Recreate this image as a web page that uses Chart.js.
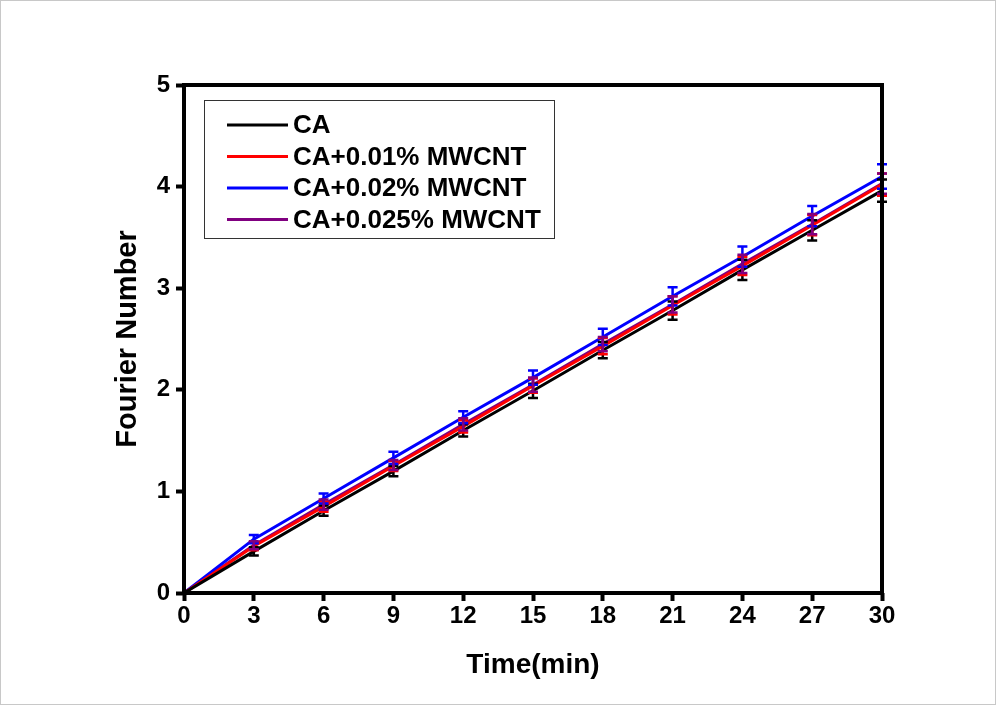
<!DOCTYPE html>
<html>
<head>
<meta charset="utf-8">
<script src="https://cdn.jsdelivr.net/npm/chart.js@4.4.1/dist/chart.umd.min.js"></script>
<style>
  html, body { margin: 0; padding: 0; background: #fff; }
  #wrap { width: 994px; height: 703px; border: 1px solid #c8c8c8; }
</style>
</head>
<body>
<div id="wrap"><canvas id="fo" width="994" height="703"></canvas></div>
<script>
let times = [0, 3, 6, 9, 12, 15, 18, 21, 24, 27, 30];
let seriesNames = ["CA", "CA+0.01% MWCNT", "CA+0.02% MWCNT", "CA+0.025% MWCNT"];
let seriesColors = ["#000000", "#ff0000", "#0000ff", "#800080"];

let foCA     = [0, 0.41, 0.81, 1.20, 1.60, 1.99, 2.39, 2.78, 3.18, 3.57, 3.96];
let foCA001  = [0, 0.46, 0.85, 1.25, 1.64, 2.04, 2.43, 2.83, 3.22, 3.62, 4.02];
let foCA002  = [0, 0.53, 0.93, 1.33, 1.73, 2.12, 2.52, 2.92, 3.31, 3.71, 4.10];
let foCA0025 = [0, 0.47, 0.87, 1.26, 1.66, 2.05, 2.45, 2.84, 3.24, 3.63, 4.03];

// standard deviation at each time
let errCA     = [0, 0.04, 0.05, 0.05, 0.06, 0.07, 0.08, 0.09, 0.10, 0.10, 0.11];
let errCA001  = [0, 0.04, 0.05, 0.05, 0.06, 0.07, 0.08, 0.09, 0.09, 0.10, 0.11];
let errCA002  = [0, 0.04, 0.05, 0.06, 0.06, 0.07, 0.08, 0.09, 0.10, 0.10, 0.12];
let errCA0025 = [0, 0.04, 0.05, 0.05, 0.06, 0.07, 0.07, 0.08, 0.09, 0.10, 0.10];

let yTicks = [0, 1, 2, 3, 4, 5];

let values = [foCA, foCA001, foCA002, foCA0025];
let errors = [errCA, errCA001, errCA002, errCA0025];

const FONT = "'Liberation Sans', Arial, sans-serif";

// error bars with caps, drawn with each line's colour
const errorBars = {
    id: "errorBars",
    afterDatasetsDraw(chart) {
        const { ctx, scales: { x, y } } = chart;
        ctx.save();
        chart.data.datasets.forEach((ds, i) => {
            ctx.strokeStyle = ds.borderColor;
            ctx.lineWidth = 2.5;
            ds.data.forEach((p, j) => {
                const e = errors[i][j];
                if (!e) return;
                const px = x.getPixelForValue(p.x);
                const top = y.getPixelForValue(p.y + e);
                const bot = y.getPixelForValue(p.y - e);
                ctx.beginPath();
                ctx.moveTo(px, top); ctx.lineTo(px, bot);
                ctx.moveTo(px - 5, top); ctx.lineTo(px + 5, top);
                ctx.moveTo(px - 5, bot); ctx.lineTo(px + 5, bot);
                ctx.stroke();
            });
        });
        ctx.restore();
    }
};

// heavy frame round the plot and boxed legend in the upper left
const frameAndLegend = {
    id: "frameAndLegend",
    afterDraw(chart) {
        const { ctx, chartArea: a } = chart;
        ctx.save();
        ctx.strokeStyle = "#000";
        ctx.lineWidth = 4;
        ctx.strokeRect(a.left, a.top, a.right - a.left, a.bottom - a.top);

        const bx = a.left + 20, by = a.top + 15, bw = 350, bh = 138;
        ctx.lineWidth = 1;
        ctx.strokeStyle = "#333";
        ctx.fillStyle = "#fff";
        ctx.fillRect(bx, by, bw, bh);
        ctx.strokeRect(bx + 0.5, by + 0.5, bw, bh);

        ctx.font = "bold 26px " + FONT;
        ctx.textBaseline = "middle";
        chart.data.datasets.forEach((ds, i) => {
            const ly = by + 25 + i * 31.5;
            ctx.strokeStyle = ds.borderColor;
            ctx.lineWidth = 3;
            ctx.beginPath();
            ctx.moveTo(bx + 23, ly); ctx.lineTo(bx + 84, ly);
            ctx.stroke();
            ctx.fillStyle = "#000";
            ctx.fillText(ds.label, bx + 89, ly + 1);
        });
        ctx.restore();
    }
};

new Chart("fo", {
    type: "line",
    data: {
        datasets: seriesNames.map((name, i) => ({
            label: name,
            data: times.map((t, j) => ({ x: t, y: values[i][j] })),
            borderColor: seriesColors[i],
            backgroundColor: seriesColors[i],
            borderWidth: 3,
            pointRadius: 0,
            tension: 0,
        })),
    },
    options: {
        responsive: false,
        animation: false,
        layout: { padding: { left: 0, top: 84, right: 113, bottom: 0 } },
        plugins: {
            legend: { display: false },
            tooltip: { enabled: false },
        },
        scales: {
            x: {
                type: "linear",
                min: 0,
                max: 30,
                afterBuildTicks: (s) => { s.ticks = times.map((v) => ({ value: v })); },
                afterFit: (s) => { s.height = 111; },
                border: { display: false },
                grid: {
                    drawOnChartArea: false,
                    color: "#000",
                    tickLength: 8,
                    tickWidth: 4,
                },
                ticks: {
                    color: "#000",
                    padding: 1,
                    maxRotation: 0,
                    font: { family: FONT, size: 24, weight: "bold" },
                },
                title: {
                    display: true,
                    text: "Time(min)",
                    color: "#000",
                    padding: { top: 0, bottom: 22 },
                    font: { family: FONT, size: 28, weight: "bold" },
                },
            },
            y: {
                min: 0,
                max: 5,
                afterBuildTicks: (s) => { s.ticks = yTicks.map((v) => ({ value: v })); },
                afterFit: (s) => { s.width = 183; },
                border: { display: false },
                grid: {
                    drawOnChartArea: false,
                    color: "#000",
                    tickLength: 8,
                    tickWidth: 4,
                },
                ticks: {
                    color: "#000",
                    padding: 6,
                    font: { family: FONT, size: 24, weight: "bold" },
                },
                title: {
                    display: true,
                    text: "Fourier Number",
                    color: "#000",
                    padding: { top: 110, bottom: 0 },
                    font: { family: FONT, size: 29, weight: "bold" },
                },
            },
        },
    },
    plugins: [errorBars, frameAndLegend],
});
</script>
</body>
</html>
